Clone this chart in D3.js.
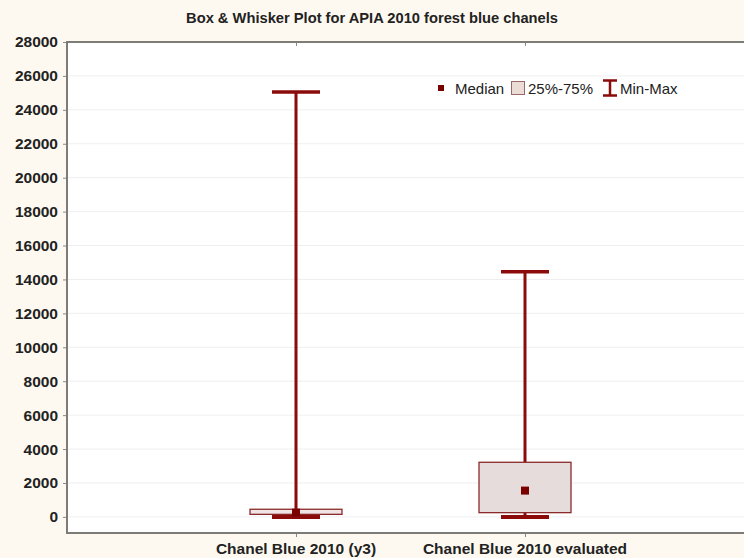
<!DOCTYPE html>
<html><head><meta charset="utf-8">
<script src="https://cdn.jsdelivr.net/npm/d3@7"></script>
<style>
body{margin:0;background:#fdf9f0;}
svg{display:block;font-family:"Liberation Sans",Arial,sans-serif;}
</style></head>
<body><svg id="c" width="744" height="558"></svg>
<script>
const categories = ["Chanel Blue 2010 (y3)", "Chanel Blue 2010 evaluated"];
const minVals = [0, 0];
const q1Vals = [150, 250];
const medianVals = [250, 1550];
const q3Vals = [450, 3220];
const maxVals = [25050, 14450];
const yTicks = [0,2000,4000,6000,8000,10000,12000,14000,16000,18000,20000,22000,24000,26000,28000];
const title = "Box & Whisker Plot for APIA 2010 forest blue chanels";
const legendLabels = ["Median", "25%-75%", "Min-Max"];

const svg = d3.select("#c");
const W = 744, H = 558;
const L = 67, T = 42, R = 754, B = 533;
const dark = "#8b0a0a";

svg.append("rect").attr("width", W).attr("height", H).attr("fill", "#fdf9f0");
svg.append("rect").attr("x", L).attr("y", T).attr("width", R - L).attr("height", B - T).attr("fill", "#ffffff");

const y = d3.scaleLinear().domain([-950, 28000]).range([B, T]);
const x = d3.scaleLinear().domain([0, 3]).range([L, R]);

// grid
svg.append("g").selectAll("line").data(yTicks.slice(0, -1)).join("line")
  .attr("x1", L).attr("x2", R).attr("y1", d => y(d)).attr("y2", d => y(d))
  .attr("stroke", "#efefef").attr("stroke-width", 1);

// y axis
const yAxis = svg.append("g").attr("transform", `translate(${L},0)`)
  .call(d3.axisLeft(y).tickValues(yTicks).tickSize(4).tickFormat(d3.format("d")));
yAxis.select(".domain").remove();
yAxis.selectAll("line").attr("stroke", "#888");
yAxis.selectAll("text").attr("font-size", 15.5).attr("font-weight", "bold").attr("fill", "#222").attr("x", -9);

// x ticks top and bottom
svg.append("g").attr("transform", `translate(0,${B})`).call(d3.axisBottom(x).tickValues([1, 2]).tickSize(4).tickFormat(""))
  .call(g => { g.select(".domain").remove(); g.selectAll("line").attr("stroke", "#888"); });
svg.append("g").attr("transform", `translate(0,${T})`).call(d3.axisBottom(x).tickValues([1, 2]).tickSize(4).tickFormat(""))
  .call(g => { g.select(".domain").remove(); g.selectAll("line").attr("stroke", "#888"); });

// frame
svg.append("path").attr("d", `M${R},${T}H${L}V${B}H${R}`).attr("fill", "none").attr("stroke", "#7d7d77").attr("stroke-width", 2);

// x labels
svg.append("g").selectAll("text").data(categories).join("text")
  .attr("x", (d, i) => x(i + 1)).attr("y", 554).attr("text-anchor", "middle")
  .attr("font-size", 15.5).attr("font-weight", "bold").attr("fill", "#222").text(d => d);

// title
svg.append("text").attr("x", 372).attr("y", 23).attr("text-anchor", "middle")
  .attr("font-size", 14.7).attr("font-weight", "bold").attr("fill", "#222").text(title);

const boxW = 92, capW = 48;
const data = categories.map((c, i) => ({i, min: minVals[i], q1: q1Vals[i], med: medianVals[i], q3: q3Vals[i], max: maxVals[i]}));
const gb = svg.append("g");
gb.selectAll(".wh").data(data).join("line")
  .attr("x1", d => x(d.i + 1)).attr("x2", d => x(d.i + 1))
  .attr("y1", d => y(d.min)).attr("y2", d => y(d.max))
  .attr("stroke", dark).attr("stroke-width", 3);
gb.selectAll(".bx").data(data).join("rect")
  .attr("x", d => x(d.i + 1) - boxW / 2).attr("width", boxW)
  .attr("y", d => y(d.q3)).attr("height", d => y(d.q1) - y(d.q3))
  .attr("fill", (d, i) => i === 0 ? "#f0e4e4" : "#e6dcdc").attr("stroke", "#8b2a2a").attr("stroke-width", 1.3);
gb.selectAll(".capmax").data(data).join("line")
  .attr("x1", d => x(d.i + 1) - capW / 2).attr("x2", d => x(d.i + 1) + capW / 2)
  .attr("y1", d => y(d.max)).attr("y2", d => y(d.max))
  .attr("stroke", dark).attr("stroke-width", 3.5);
gb.selectAll(".capmin").data(data).join("line")
  .attr("x1", d => x(d.i + 1) - capW / 2).attr("x2", d => x(d.i + 1) + capW / 2)
  .attr("y1", d => y(d.min)).attr("y2", d => y(d.min))
  .attr("stroke", dark).attr("stroke-width", 4);
gb.selectAll(".med").data(data).join("rect")
  .attr("x", d => x(d.i + 1) - 4).attr("y", d => y(d.med) - 4).attr("width", 8).attr("height", 8)
  .attr("fill", "#7a0000");

// legend
const lg = svg.append("g").attr("font-size", 15).attr("fill", "#222");
lg.append("rect").attr("x", 438).attr("y", 85).attr("width", 6).attr("height", 6).attr("fill", "#7a0000");
lg.append("text").attr("x", 455).attr("y", 93.5).text(legendLabels[0]);
lg.append("rect").attr("x", 511.5).attr("y", 81.5).attr("width", 13).attr("height", 13).attr("fill", "#ecdcd6").attr("stroke", "#9a6a6a").attr("stroke-width", 1);
lg.append("text").attr("x", 528).attr("y", 93.5).text(legendLabels[1]);
lg.append("path").attr("d", "M603,80.5H617M610,80.5V95.5M603,95.5H617").attr("stroke", dark).attr("stroke-width", 2.5).attr("fill", "none");
lg.append("text").attr("x", 620).attr("y", 93.5).text(legendLabels[2]);
</script></body></html>
